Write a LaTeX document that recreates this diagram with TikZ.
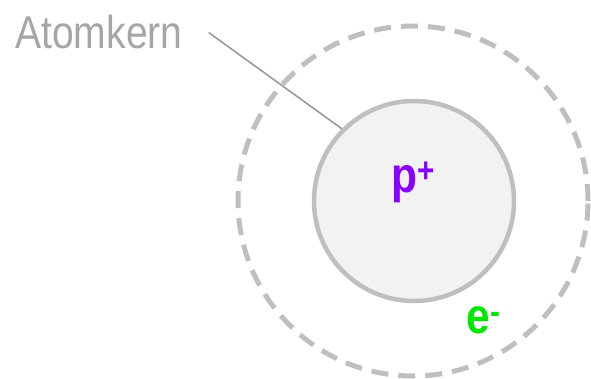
\documentclass[tikz,border=0pt]{standalone}
\usepackage{fontspec}
\newfontfamily\narrowfont[FakeStretch=0.85]{Liberation Sans}
\usetikzlibrary{calc}
\definecolor{shellgray}{HTML}{BFBFBF}
\definecolor{corefill}{HTML}{F2F2F2}
\definecolor{labelgray}{HTML}{A6A6A6}
\definecolor{leadgray}{HTML}{999999}
\definecolor{protoncol}{HTML}{8800FF}
\definecolor{electroncol}{HTML}{00E600}
\begin{document}
\begin{tikzpicture}[%
x=1pt, y=-1pt,
charge/.style={inner sep=0pt, anchor=base, font=\narrowfont\bfseries\fontsize{50}{60}\selectfont},
]
\useasboundingbox (0,0) rectangle (591,378);
%% electron shell;
\node [draw=shellgray, line width=5pt, dash pattern=on 17pt off 10pt, circle, minimum size=350pt, inner sep=0pt] (shell) at (413,201) {};
%% nucleus;
\node [draw=shellgray, fill=corefill, line width=4.5pt, circle, minimum size=200pt, inner sep=0pt] (nucleus) at (414,201) {};
%% label;
\node [inner sep=0pt, anchor=base west, text=labelgray, font=\narrowfont\fontsize{46}{55}\selectfont] (kern) at (15,48) {Atomkern};
\coordinate (lead) at ($(kern.east)+(26,1)$);
\draw [color=leadgray, line width=1.6pt] (lead) -- (nucleus.north west);
%% charges;
\node [charge, text=protoncol] (proton) at (413,192) {p\textsuperscript{+}};
\node [charge, text=electroncol] (electron) at (484,333) {e\textsuperscript{-}};
\end{tikzpicture}
\end{document}
